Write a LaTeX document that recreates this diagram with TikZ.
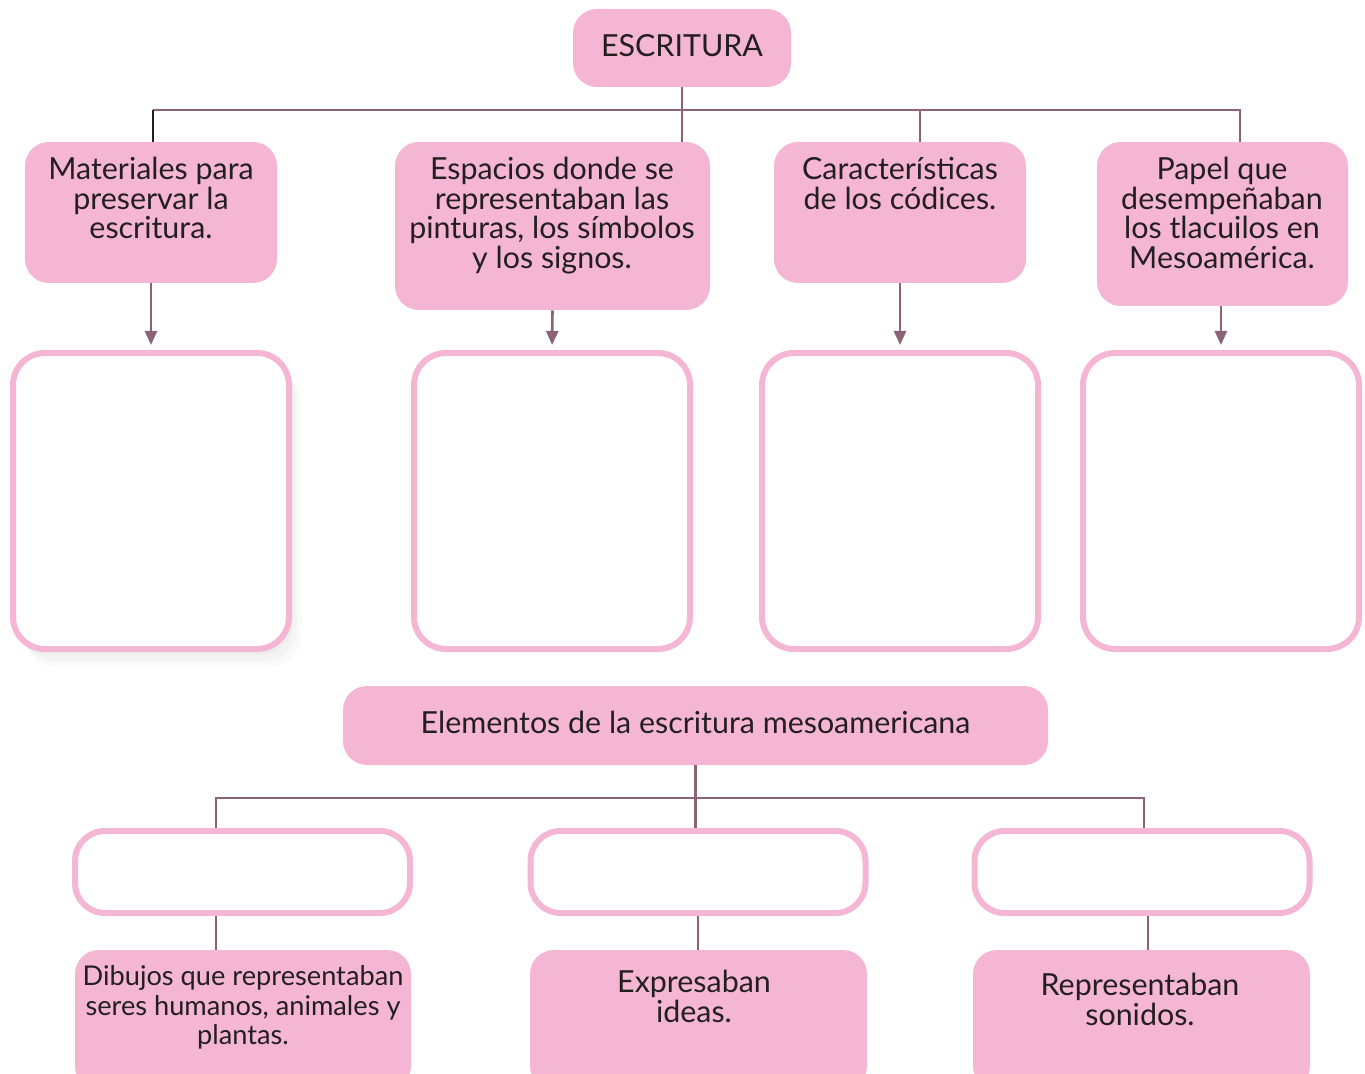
\documentclass[tikz,border=0pt]{standalone}
\usepackage{fontspec}
\setmainfont{Lato}
\usetikzlibrary{arrows.meta,positioning,shadows}
\definecolor{rosa}{RGB}{245,182,211}
\definecolor{malva}{RGB}{140,98,120}
\definecolor{tinta}{RGB}{35,31,32}
\begin{document}
\begin{tikzpicture}[x=0.5pt,y=-0.5pt,>={Triangle[length=7pt,width=6pt]},
tema/.style={fill=rosa,rounded corners=12pt,text=tinta,align=center,font=\fontsize{15.2}{15}\selectfont},
texto/.style={inner sep=0pt,text=tinta,align=center,font=\fontsize{15.2}{14.8}\selectfont},
hueco/.style={draw=rosa,line width=3pt,fill=white,rounded corners=16pt},
rama/.style={malva,line width=1.3pt},
arr/.style={->,malva,line width=1.3pt,shorten >=2.5pt}]
\useasboundingbox (0,0) rectangle (1365,1074);
% top level
\node[tema,minimum width=109pt,minimum height=39pt] (esc) at (682,48) {\raisebox{2.5pt}{ESCRITURA}};
\node[tema,minimum width=126pt,minimum height=70.5pt] (mat) at (151,212.5) {};
\node[tema,minimum width=157.5pt,minimum height=84pt] (esp) at (552.5,226) {};
\node[tema,minimum width=126pt,minimum height=70.5pt] (car) at (900,212.5) {};
\node[tema,minimum width=125.5pt,minimum height=82pt] (pap) at (1222.5,224) {};
\node[texto,anchor=north] (mat-t) at (151,157) {Materiales para\\preservar la\\escritura.};
\node[texto,anchor=north] (esp-t) at (552,157) {Espacios donde se\\representaban las\\pinturas, los símbolos\\y los signos.};
\node[texto,anchor=north] (car-t) at (900,157) {Características\\de los códices.};
\node[texto,anchor=north] (pap-t) at (1222,157) {Papel que\\desempeñaban\\los tlacuilos en\\Mesoamérica.};
% empty boxes
\node[hueco,minimum width=138pt,minimum height=148pt,
  drop shadow={opacity=0.05,shadow xshift=2pt,shadow yshift=-3pt},
  drop shadow={opacity=0.05,shadow xshift=4pt,shadow yshift=-6pt},
  drop shadow={opacity=0.04,shadow xshift=6pt,shadow yshift=-9pt}] (h1) at (151,501) {};
\node[hueco,minimum width=138pt,minimum height=148pt] (h2) at (552,501) {};
\node[hueco,minimum width=138pt,minimum height=148pt] (h3) at (900,501) {};
\node[hueco,minimum width=138pt,minimum height=148pt] (h4) at (1221,501) {};
% branches
\coordinate (bi) at (153,110);
\coordinate (bc) at (920,110);
\coordinate (bd) at (1240,110);
\draw[rama] (bi) -- (bd) -- (bd |- pap.north);
\draw[rama,tinta] (bi) -- (bi |- mat.north);
\draw[rama] (esc.south) -- (esc.south |- esp.north);
\draw[rama] (bc) -- (bc |- car.north);
\draw[arr] (mat) -- (h1);
\draw[arr] (esp.south) -- (h2.north);
\draw[arr] (car.south) -- (h3.north);
\draw[arr] (pap.south -| h4) -- (h4.north);
% lower tree
\node[tema,minimum width=352.5pt,minimum height=39.5pt] (ele) at (695.5,725.5) {\raisebox{3.5pt}{Elementos de la escritura mesoamericana}};
\node[hueco,minimum width=167.5pt,minimum height=41pt,rounded corners=15pt] (v1) at (242.5,872) {};
\node[hueco,minimum width=167.5pt,minimum height=41pt,rounded corners=15pt] (v2) at (698,872) {};
\node[hueco,minimum width=167.5pt,minimum height=41pt,rounded corners=15pt] (v3) at (1142,872) {};
\node[tema,minimum width=168pt,minimum height=70pt] (d1) at (243,1020) {};
\node[tema,minimum width=168.5pt,minimum height=70pt] (d2) at (698.5,1020) {};
\node[tema,minimum width=168.5pt,minimum height=70pt] (d3) at (1141.5,1020) {};
\node[texto,anchor=north,font=\fontsize{13.6}{14.8}\selectfont] (d1-t) at (243,965) {Dibujos que representaban\\seres humanos, animales y\\plantas.};
\node[texto,anchor=north] (d2-t) at (694,970) {Expresaban\\ideas.};
\node[texto,anchor=north] (d3-t) at (1140,973) {Representaban\\sonidos.};
\coordinate (ei) at (216,798);
\coordinate (ed) at (1144,798);
\draw[rama] (ei |- v1.north) -- (ei) -- (ed) -- (ed |- v3.north);
\draw[rama] (ele.south) -- (ele.south |- v2.north);
\draw[rama] (ei |- v1.south) -- (ei |- d1.north);
\draw[rama] (v2.south) -- (v2.south |- d2.north);
\draw[rama] ([xshift=2pt]ed |- v3.south) -- ([xshift=2pt]ed |- d3.north);
\end{tikzpicture}
\end{document}
